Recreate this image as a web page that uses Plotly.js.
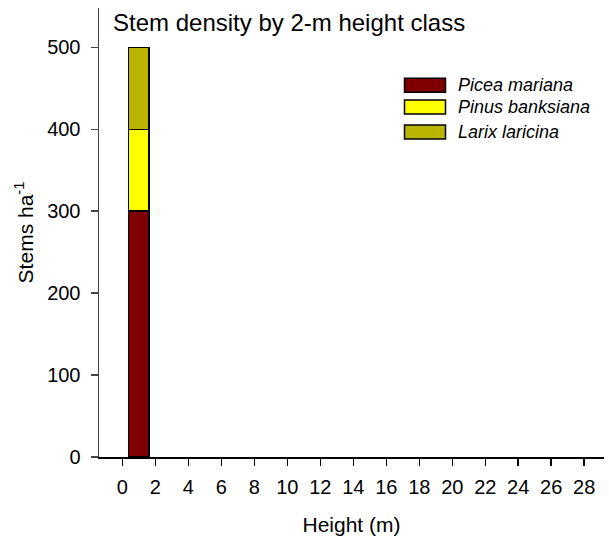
<!DOCTYPE html>
<html>
<head>
<meta charset="utf-8">
<script src="https://cdn.plot.ly/plotly-3.0.1.min.js"></script>
<style>html,body{margin:0;padding:0;background:#fff}#chart{width:609px;height:546px}</style>
</head>
<body>
<div id="chart"></div>
<script>
// Data
const heightClass = [1];
const piceaMariana = [300];
const pinusBanksiana = [100];
const larixLaricina = [100];
const speciesNames = ["Picea mariana", "Pinus banksiana", "Larix laricina"];
const speciesColors = ["#7f0000", "#ffff00", "#b8b400"];
const xTicks = [0,2,4,6,8,10,12,14,16,18,20,22,24,26,28];
const yTicks = [0,100,200,300,400,500];

const series = [piceaMariana, pinusBanksiana, larixLaricina];
const traces = series.map((v, i) => ({
  type: 'bar', x: heightClass, y: v, name: speciesNames[i], width: 1.25,
  marker: {color: speciesColors[i], line: {color: '#000', width: 1.5}},
  showlegend: false, hoverinfo: 'none'
}));

// plot area in px
const L = 99, R = 604, T = 8, B = 457;
const px = x => (x - L) / (R - L);
const py = y => (B - y) / (B - T);

const shapes = [], annotations = [];
const rowsY = [85.3, 107, 132];
speciesNames.forEach((n, i) => {
  shapes.push({type: 'rect', xref: 'paper', yref: 'paper',
    x0: px(404.5), x1: px(445.5), y0: py(rowsY[i] - 7), y1: py(rowsY[i] + 7),
    fillcolor: speciesColors[i], line: {color: '#000', width: 1.5}});
  annotations.push({xref: 'paper', yref: 'paper', x: px(456), y: py(rowsY[i]),
    xanchor: 'left', yanchor: 'middle', showarrow: false,
    text: '<i>' + n + '</i>', font: {size: 18, color: '#000'}});
});
annotations.push({xref: 'paper', yref: 'paper', x: px(111), y: py(22),
  xanchor: 'left', yanchor: 'middle', showarrow: false,
  text: 'Stem density by 2-m height class', font: {size: 24, color: '#000'}});

const layout = {
  width: 609, height: 546,
  margin: {l: L, r: 609 - R, t: T, b: 546 - B},
  paper_bgcolor: '#fff', plot_bgcolor: '#fff',
  font: {family: 'Arial, "Liberation Sans", sans-serif', color: '#000', size: 20},
  barmode: 'stack',
  showlegend: false,
  xaxis: {
    range: [-1.42, 29.2], tickvals: xTicks, ticktext: xTicks.map(String),
    showgrid: false, zeroline: false, showline: true, linecolor: '#000', linewidth: 1.5,
    ticks: 'outside', ticklen: 7, tickwidth: 1.5, tickcolor: '#000',
    tickfont: {size: 20}, ticklabelstandoff: 4,
    title: {text: 'Height (m)', font: {size: 21}, standoff: 21}
  },
  yaxis: {
    range: [0, 548], tickvals: yTicks, ticktext: yTicks.map(String),
    showgrid: false, zeroline: false, showline: true, linecolor: '#444', linewidth: 1.5,
    ticks: 'outside', ticklen: 7, tickwidth: 1.5, tickcolor: '#444',
    tickfont: {size: 20}, ticklabelstandoff: 6,
    title: {text: 'Stems ha<sup>-1</sup>', font: {size: 21}, standoff: 8}
  },
  shapes: shapes, annotations: annotations
};

Plotly.newPlot('chart', traces, layout, {displayModeBar: false, staticPlot: true});
</script>
</body>
</html>
